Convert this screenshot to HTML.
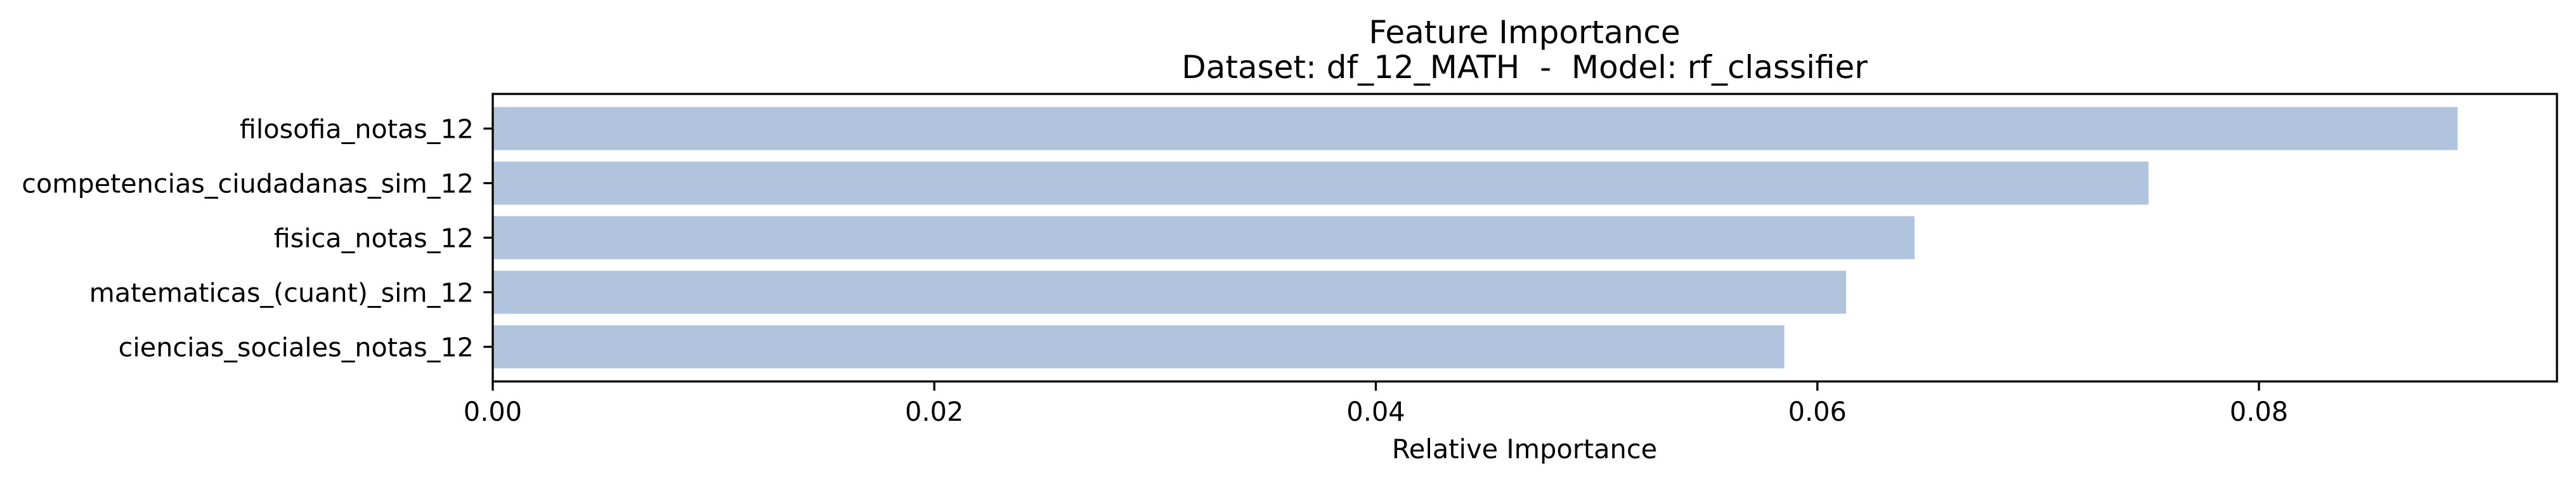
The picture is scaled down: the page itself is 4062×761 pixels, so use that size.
<!DOCTYPE html>
<html><head><meta charset="utf-8"><style>
html,body{margin:0;padding:0;background:#fff;}
svg{display:block;font-family:"DejaVu Sans","Liberation Sans",sans-serif;}
</style></head><body>
<svg id="chart" width="4062" height="761" viewBox="0 0 4062 761" xmlns="http://www.w3.org/2000/svg">
<rect x="0" y="0" width="4062" height="761" fill="#fff"/>
<text x="2404" y="68" font-size="50" text-anchor="middle">Feature Importance</text>
<text x="2404" y="123" font-size="50" text-anchor="middle" xml:space="preserve">Dataset: df_12_MATH  -  Model: rf_classifier</text>
<g id="bars"></g>
<g id="yticks"></g>
<g id="xticks"></g>
<rect x="777" y="148" width="3255" height="453" fill="none" stroke="#000" stroke-width="3.3"/>
<text x="2404" y="722" font-size="41.5" text-anchor="middle">Relative Importance</text>
</svg>
<script>
const categories = ["filosofia_notas_12","competencias_ciudadanas_sim_12","fisica_notas_12","matematicas_(cuant)_sim_12","ciencias_sociales_notas_12"];
const values = [0.0890,0.0750,0.0644,0.0613,0.0585];
const xTicks = [0,0.02,0.04,0.06,0.08];
const xTickLabels = ["0.00","0.02","0.04","0.06","0.08"];

const NS="http://www.w3.org/2000/svg";
const X0=777, X1=4032, XMAX=0.0935;
const xs=v=>X0+v/XMAX*(X1-X0);
const Y0=148, Y1=601, n=categories.length;
const step=(Y1-Y0)/(n+0.27);
const yc=i=>Y0+step*(0.635+i);
const bh=step*0.79;
function mk(t,a){const e=document.createElementNS(NS,t);for(const k in a)e.setAttribute(k,a[k]);return e;}
const bars=document.getElementById('bars'),yt=document.getElementById('yticks'),xt=document.getElementById('xticks');
categories.forEach((c,i)=>{
  const r=mk('rect',{x:X0,y:yc(i)-bh/2,width:xs(values[i])-X0,height:bh,fill:'#b0c4de'});
  
  
  bars.appendChild(r);
  const l=mk('line',{x1:X0-14.6,x2:X0,y1:yc(i),y2:yc(i),stroke:'#000','stroke-width':3.3});
  
  
  yt.appendChild(l);
  const t=mk('text',{x:X0-30,y:yc(i)+15,'font-size':41.3,'text-anchor':'end'});
  
  
  t.textContent=c;yt.appendChild(t);
});
xTicks.forEach((v,i)=>{
  const l=mk('line',{x1:xs(v),x2:xs(v),y1:Y1,y2:Y1+14.6,stroke:'#000','stroke-width':3.3});
  
  
  xt.appendChild(l);
  const t=mk('text',{x:xs(v),y:663,'font-size':41.5,'text-anchor':'middle'});
  
  
  t.textContent=xTickLabels[i];xt.appendChild(t);
});
</script>
</body></html>
